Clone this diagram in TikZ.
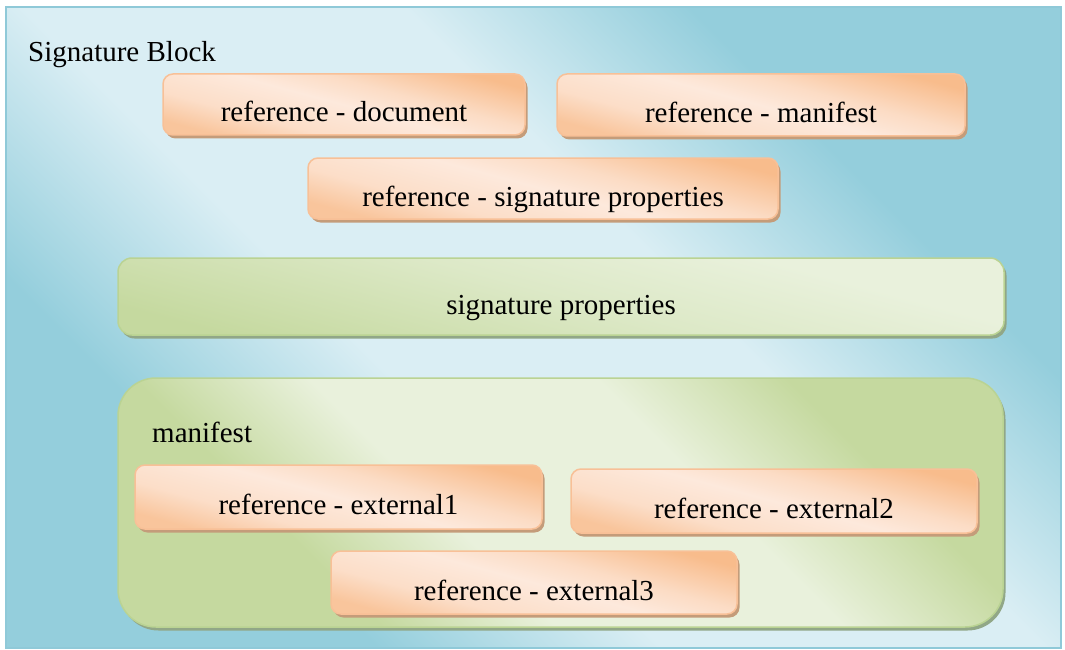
\documentclass[tikz,border=0pt]{standalone}
\usepackage{fontspec}
\setmainfont{Liberation Serif}
\newfontfamily\boxface{Liberation Serif}
\usetikzlibrary{shadows}

\definecolor{bgdark}{HTML}{94CEDC}
\definecolor{bglight}{HTML}{DAEEF4}
\definecolor{bgborder}{HTML}{8FC9D8}
\definecolor{ordark}{HTML}{F8BC8C}
\definecolor{orlight}{HTML}{FDE9DC}
\definecolor{orborder}{HTML}{F8C097}
\definecolor{orshadow}{HTML}{C49C7A}
\definecolor{grdark}{HTML}{C5D99F}
\definecolor{grlight}{HTML}{E9F1DC}
\definecolor{grborder}{HTML}{BAD393}
\definecolor{grshadow}{HTML}{91A787}

% soft gradients; 25bp..75bp span the shaded shape from bottom to top
\pgfdeclareverticalshading{bgshade}{100bp}{color(0bp)=(bgdark); color(30bp)=(bgdark);
  color(42bp)=(bglight); color(58bp)=(bglight); color(70bp)=(bgdark); color(100bp)=(bgdark)}
\pgfdeclareverticalshading{orshade}{100bp}{color(0bp)=(ordark!80!orlight); color(25bp)=(ordark!80!orlight);
  color(36bp)=(orlight!75!ordark); color(50bp)=(orlight); color(60bp)=(orlight!70!ordark);
  color(75bp)=(ordark); color(100bp)=(ordark)}
\pgfdeclareverticalshading{grbarshade}{100bp}{color(0bp)=(grdark); color(25bp)=(grdark);
  color(50bp)=(grlight!65!grdark); color(68bp)=(grlight); color(75bp)=(grlight); color(100bp)=(grlight)}
\pgfdeclareverticalshading{grshade}{100bp}{color(0bp)=(grdark); color(31bp)=(grdark);
  color(42bp)=(grlight); color(60bp)=(grlight); color(72bp)=(grdark); color(100bp)=(grdark)}

\newcommand{\labelfont}{\boxface\fontsize{29}{34}\selectfont}

\tikzset{
  panel/.style={rounded corners=#1, line width=1.5pt, inner sep=0pt,
    text height=35pt, text depth=0pt, font=\labelfont},
  orangebox/.style={panel=10pt, draw=orborder, shade, shading=orshade, shading angle=-15,
    drop shadow={shadow xshift=2.5pt, shadow yshift=-3.5pt, fill=orshadow, opacity=1}},
  greenbox/.style={panel=#1, draw=grborder,
    drop shadow={shadow xshift=2.5pt, shadow yshift=-3.5pt, fill=grshadow, opacity=1}},
  caption/.style={anchor=base west, inner sep=0pt, font=\labelfont}
}

\begin{document}
\begin{tikzpicture}[x=1pt, y=-1pt]
\useasboundingbox (0,0) rectangle (1065,650);

% outer frame of the signature block
\node[draw=bgborder, line width=1.5pt, minimum width=1055pt, minimum height=641pt,
      shade, shading=bgshade, shading angle=-45]
      (block) at (533.5,327.5) {};
\node[caption] (blocklabel) at (28,62) {Signature Block};

% references inside the signature block
\node[orangebox, minimum width=362pt, minimum height=61pt] (rdoc) at (344,104.5) {reference - document};
\node[orangebox, minimum width=408pt, minimum height=62pt] (rman) at (761,105) {reference - manifest};
\node[orangebox, minimum width=470pt, minimum height=61pt] (rsig) at (543,188.5) {reference - signature properties};

% signature properties
\node[greenbox=14pt, shade, shading=grbarshade, shading angle=-15,
      minimum width=886pt, minimum height=77pt] (sigp) at (561,296.5) {signature properties};

% manifest with its external references
\node[greenbox=38pt, shade, shading=grshade, shading angle=-45,
      minimum width=885pt, minimum height=249pt] (manifest) at (560.5,502.5) {};
\node[caption] (manifestlabel) at (152,442) {manifest};
\node[orangebox, minimum width=407pt, minimum height=64pt] (ext1) at (338.5,497) {reference - external1};
\node[orangebox, minimum width=406pt, minimum height=64pt] (ext2) at (774,501) {reference - external2};
\node[orangebox, minimum width=406pt, minimum height=63pt] (ext3) at (534,582.5) {reference - external3};
\end{tikzpicture}
\end{document}
